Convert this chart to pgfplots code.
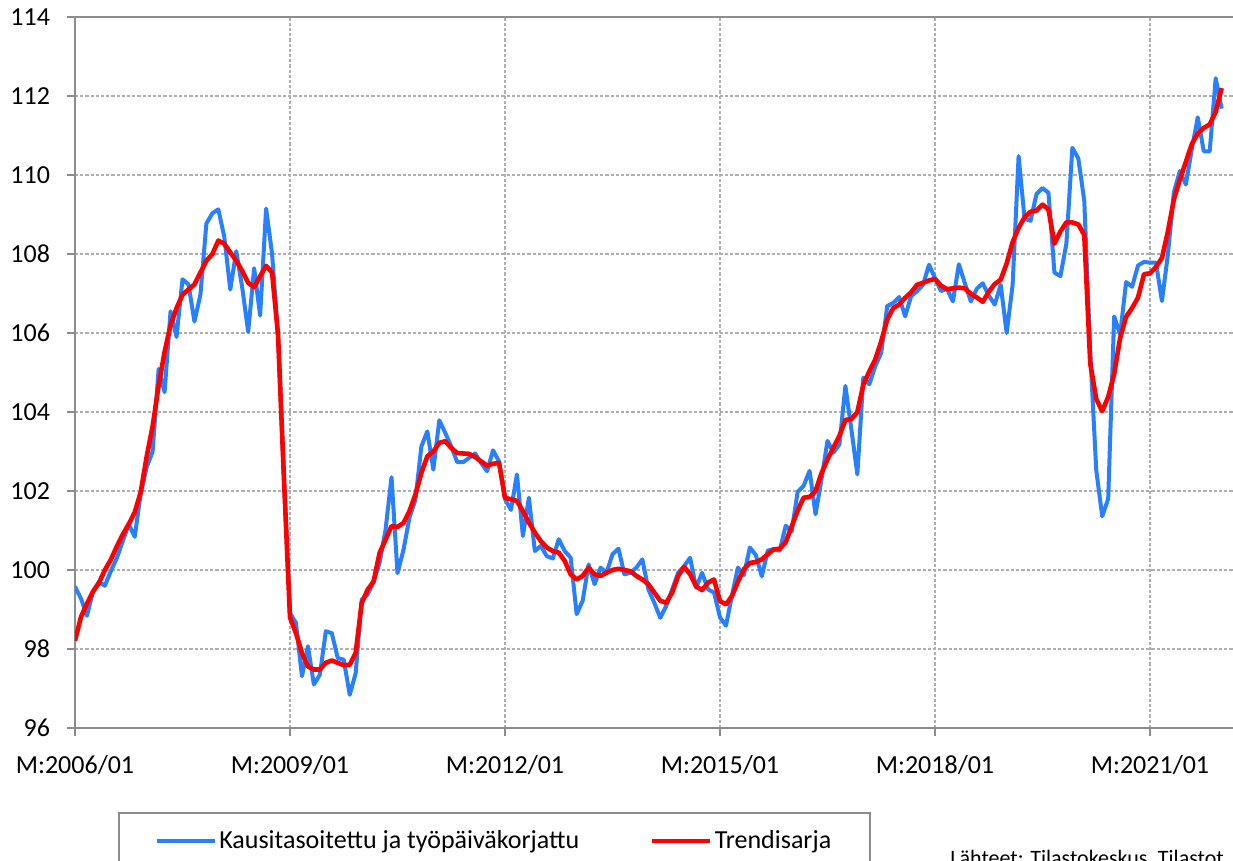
\documentclass[border=0pt]{standalone}
\usepackage{fontspec}
\setmainfont{Carlito}
\usepackage{pgfplots}
\usepackage{pgfplotstable}
\pgfplotsset{compat=1.18}
\definecolor{sablue}{RGB}{41,128,255}
\definecolor{gridgray}{RGB}{175,175,175}
\definecolor{axgray}{RGB}{140,140,140}

\pgfplotstableread{
m v
0 99.58
1 99.28
2 98.84
3 99.45
4 99.7
5 99.6
6 99.97
7 100.3
8 100.73
9 101.16
10 100.84
11 101.93
12 102.6
13 103.0
14 105.09
15 104.5
16 106.55
17 105.9
18 107.36
19 107.23
20 106.29
21 106.97
22 108.77
23 109.03
24 109.13
25 108.43
26 107.1
27 108.07
28 107.15
29 106.03
30 107.64
31 106.44
32 109.15
33 108.0
34 105.95
35 102.3
36 98.91
37 98.66
38 97.31
39 98.07
40 97.1
41 97.35
42 98.45
43 98.4
44 97.77
45 97.73
46 96.84
47 97.39
48 99.25
49 99.38
50 99.71
51 100.18
52 101.02
53 102.35
54 99.92
55 100.51
56 101.32
57 101.78
58 103.13
59 103.51
60 102.54
61 103.79
62 103.47
63 103.13
64 102.73
65 102.73
66 102.84
67 102.95
68 102.71
69 102.5
70 103.03
71 102.75
72 101.8
73 101.52
74 102.42
75 100.86
76 101.83
77 100.48
78 100.61
79 100.35
80 100.29
81 100.78
82 100.48
83 100.31
84 98.88
85 99.22
86 100.14
87 99.64
88 100.06
89 99.93
90 100.4
91 100.54
92 99.89
93 99.93
94 100.06
95 100.27
96 99.51
97 99.17
98 98.79
99 99.09
100 99.51
101 99.93
102 100.1
103 100.31
104 99.55
105 99.93
106 99.51
107 99.43
108 98.8
109 98.59
110 99.35
111 100.06
112 99.87
113 100.57
114 100.38
115 99.84
116 100.49
117 100.53
118 100.49
119 101.12
120 100.97
121 101.98
122 102.13
123 102.51
124 101.41
125 102.3
126 103.27
127 102.97
128 103.18
129 104.66
130 103.56
131 102.42
132 104.87
133 104.7
134 105.16
135 105.5
136 106.68
137 106.76
138 106.91
139 106.42
140 106.93
141 107.06
142 107.22
143 107.73
144 107.39
145 107.06
146 107.12
147 106.8
148 107.74
149 107.26
150 106.8
151 107.12
152 107.26
153 106.95
154 106.72
155 107.22
156 106.0
157 107.22
158 110.48
159 108.89
160 108.84
161 109.52
162 109.67
163 109.55
164 107.53
165 107.44
166 108.26
167 110.69
168 110.42
169 109.34
170 105.5
171 102.53
172 101.36
173 101.8
174 106.42
175 105.96
176 107.29
177 107.17
178 107.71
179 107.8
180 107.78
181 107.78
182 106.81
183 107.99
184 109.56
185 110.1
186 109.76
187 110.65
188 111.46
189 110.6
190 110.6
191 112.45
192 111.68
}\bluedata

\pgfplotstableread{
m v
0 98.21
1 98.81
2 99.15
3 99.45
4 99.67
5 100.0
6 100.26
7 100.6
8 100.9
9 101.16
10 101.46
11 101.97
12 102.87
13 103.64
14 104.67
15 105.52
16 106.2
17 106.63
18 106.97
19 107.1
20 107.23
21 107.53
22 107.83
23 108.0
24 108.34
25 108.26
26 108.04
27 107.83
28 107.57
29 107.27
30 107.16
31 107.44
32 107.7
33 107.53
34 105.95
35 102.27
36 98.8
37 98.4
38 97.9
39 97.56
40 97.48
41 97.48
42 97.65
43 97.71
44 97.65
45 97.59
46 97.6
47 97.9
48 99.16
49 99.5
50 99.71
51 100.43
52 100.77
53 101.11
54 101.09
55 101.19
56 101.49
57 101.91
58 102.46
59 102.88
60 103.0
61 103.22
62 103.26
63 103.09
64 102.96
65 102.95
66 102.94
67 102.86
68 102.75
69 102.64
70 102.69
71 102.71
72 101.83
73 101.79
74 101.75
75 101.49
76 101.2
77 100.95
78 100.73
79 100.57
80 100.48
81 100.44
82 100.23
83 99.89
84 99.76
85 99.85
86 100.06
87 99.89
88 99.85
89 99.93
90 100.0
91 100.03
92 100.0
93 99.97
94 99.85
95 99.76
96 99.64
97 99.43
98 99.22
99 99.17
100 99.43
101 99.85
102 100.08
103 99.89
104 99.59
105 99.49
106 99.68
107 99.76
108 99.21
109 99.13
110 99.34
111 99.7
112 100.02
113 100.18
114 100.2
115 100.27
116 100.4
117 100.52
118 100.54
119 100.7
120 101.1
121 101.5
122 101.83
123 101.85
124 102.0
125 102.45
126 102.8
127 103.1
128 103.4
129 103.8
130 103.82
131 104.0
132 104.69
133 105.03
134 105.33
135 105.79
136 106.34
137 106.63
138 106.72
139 106.89
140 107.03
141 107.22
142 107.27
143 107.33
144 107.37
145 107.2
146 107.11
147 107.13
148 107.15
149 107.13
150 106.99
151 106.9
152 106.79
153 107.04
154 107.24
155 107.35
156 107.76
157 108.3
158 108.66
159 108.93
160 109.07
161 109.1
162 109.25
163 109.13
164 108.26
165 108.57
166 108.8
167 108.8
168 108.75
169 108.48
170 105.23
171 104.33
172 104.02
173 104.38
174 104.96
175 105.87
176 106.41
177 106.63
178 106.9
179 107.49
180 107.51
181 107.67
182 107.9
183 108.57
184 109.38
185 109.88
186 110.33
187 110.78
188 111.05
189 111.19
190 111.28
191 111.6
192 112.2
}\reddata

\begin{document}
\begin{tikzpicture}[font=\fontsize{13pt}{15.6pt}\selectfont]
\begin{axis}[
  scale only axis, width=579pt, height=355.5pt,
  at={(0,0)}, anchor=south west,
  xmin=0, xmax=193.9, ymin=96, ymax=114,
  axis x line=box, axis y line=left,
  axis line style={axgray, line width=1.1pt, -},
  every outer x axis line/.append style={-},
  every outer y axis line/.append style={-},
  xtick={0,36,72,108,144,180},
  xticklabels={M:2006/01,M:2009/01,M:2012/01,M:2015/01,M:2018/01,M:2021/01},
  ytick={96,98,...,114},
  xtick pos=left, ytick pos=left,
  tick align=outside, major tick length=4pt,
  tick style={axgray, line width=0.9pt},
  grid=major,
  major grid style={gridgray, dash pattern=on 1.6pt off 1pt, line width=0.6pt},
  /pgf/number format/assume math mode=true,
  yticklabel style={xshift=-5pt},
  xticklabel style={yshift=-6pt},
  legend columns=2,
  legend cell align=left,
  legend style={at={(0.0371,-0.1181)}, anchor=north west, draw=axgray, line width=0.8pt,
    inner xsep=18pt, inner ysep=7pt,
    nodes={inner xsep=1.5pt},
    /tikz/every even column/.append style={column sep=34pt}},
  legend image code/.code={\draw[#1, line width=1.8pt] (0pt,0pt) -- (29pt,0pt);},
]
\addplot[sablue, line width=2pt, line join=round] table[x=m, y=v] {\bluedata};
\addlegendentry{Kausitasoitettu ja työpäiväkorjattu}
\addplot[red, line width=2.3pt, line join=round] table[x=m, y=v] {\reddata};
\addlegendentry{Trendisarja}
\end{axis}
\node[anchor=north west, inner sep=0pt, font=\fontsize{11pt}{13pt}\selectfont] at (437.5pt,-61pt) {Lähteet: Tilastokeskus, Tilastot};
\pgfresetboundingbox
\useasboundingbox (-37.5pt,-66.5pt) rectangle (579pt,364pt);
\end{tikzpicture}
\end{document}
